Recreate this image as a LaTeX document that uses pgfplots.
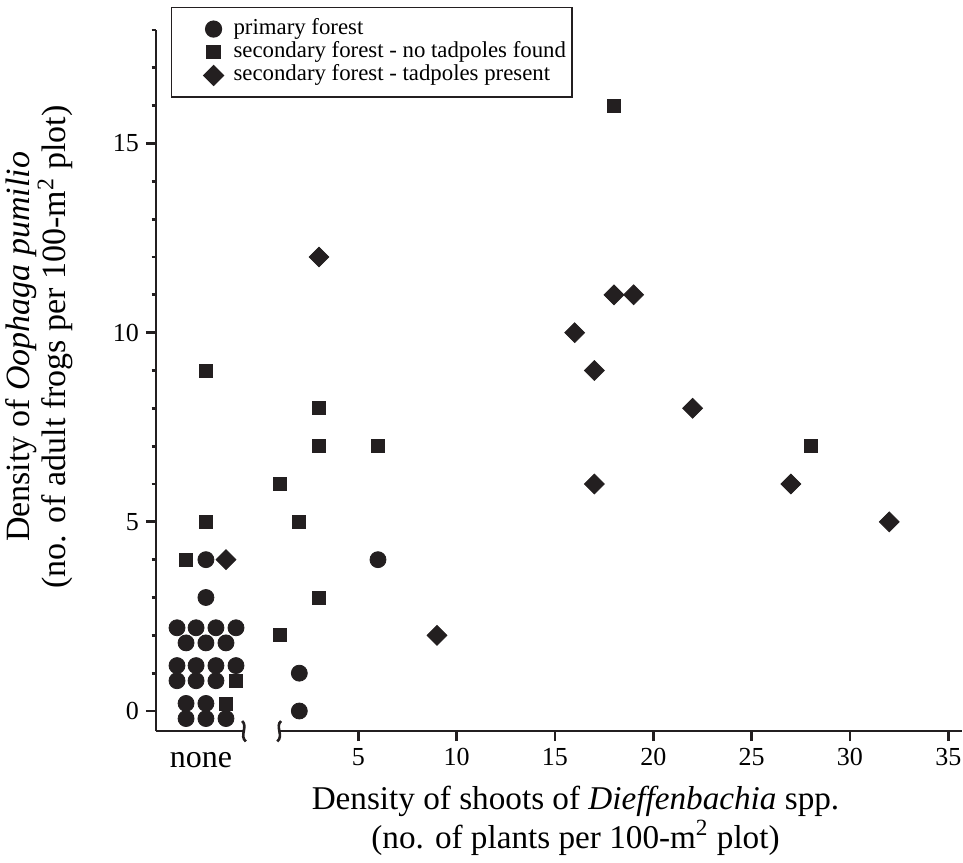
\documentclass[border=0pt]{standalone}
\usepackage{fontspec}
\setmainfont{Liberation Serif}
\usepackage{pgfplots}
\pgfplotsset{compat=1.18}

\definecolor{ink}{RGB}{35,31,32}

% primary forest
\pgfplotstableread{
x y
-4.22 2.2
-3.25 2.2
-2.24 2.2
-1.22 2.2
-3.76 1.8
-2.75 1.8
-1.73 1.8
-4.22 1.2
-3.25 1.2
-2.24 1.2
-1.22 1.2
-4.22 0.8
-3.25 0.8
-2.24 0.8
-3.76 0.2
-2.75 0.2
-3.76 -0.2
-2.75 -0.2
-1.73 -0.2
-2.75 3
-2.75 4
2 0
2 1
6 4
}\primary

% secondary forest, no tadpoles found
\pgfplotstableread{
x y
-2.75 9
-2.75 5
-3.76 4
-1.22 0.8
-1.73 0.2
1 6
1 2
2 5
3 8
3 7
3 3
6 7
18 16
28 7
}\notadpoles

% secondary forest, tadpoles present
\pgfplotstableread{
x y
-1.73 4
3 12
16 10
17 9
18 11
19 11
22 8
17 6
27 6
32 5
9 2
}\tadpoles

\begin{document}
\begin{tikzpicture}
\begin{axis}[
    scale only axis, width=403pt, height=350.5pt,
    xmin=-5.29, xmax=35.7, ymin=-0.53, ymax=18,
    axis x line=bottom, axis y line=left,
    axis line style={-, line width=1.4pt, color=ink},
    x axis line style={draw=none},
    xtick={5,10,...,35},
    ytick={0,5,10,15},
    minor ytick={1,2,3,4,6,7,8,9,11,12,13,14,16,17,18},
    tick align=outside,
    major tick length=5pt, minor tick length=2.2pt,
    every tick/.style={line width=1.4pt, color=ink},
    tick label style={font=\fontsize{13}{15}\selectfont},
    /pgf/number format/assume math mode=true,
    extra x ticks={-3},
    extra x tick labels={none},
    extra x tick style={every tick/.style={draw=none},
        tick label style={font=\fontsize{16}{18}\selectfont, yshift=-2pt}},
    xlabel={Density of shoots of \textit{Dieffenbachia} spp.\\(no. of plants per 100-m\textsuperscript{2} plot)},
    ylabel={Density of \textit{Oophaga pumilio}\\(no. of adult frogs per 100-m\textsuperscript{2} plot)},
    every axis x label/.style={at={(axis description cs:0.5205,-0.128)}, anchor=center,
        font=\fontsize{16.6}{19.5}\selectfont, align=center},
    every axis y label/.style={at={(axis description cs:-0.1445,0.548)}, anchor=center, rotate=90,
        font=\fontsize{17}{18}\selectfont, align=center},
    legend style={at={(axis description cs:0.0186,1.033)}, anchor=north west,
        draw=ink, line width=0.6pt, inner xsep=1pt, inner ysep=5pt,
        font=\fontsize{11.4}{11.5}\selectfont, row sep=0pt,
        nodes={text height=8pt, text depth=3pt, inner ysep=0.3pt}},
    legend cell align=left,
    legend image code/.code={
        \path[draw=none, fill=none] (0pt,-1pt) rectangle (28pt,1pt);
        \draw[#1] plot coordinates {(20pt,0pt)};},
    clip=false,
]
\addplot[only marks, mark=*, mark size=4pt, draw=ink, fill=ink] table {\primary};
\addlegendentry{primary forest}
\addplot[only marks, mark=square*, mark size=3.25pt, draw=ink, fill=ink] table {\notadpoles};
\addlegendentry{secondary forest - no tadpoles found}
\addplot[only marks, mark=square*, mark size=3.5pt, mark options={rotate=45}, draw=ink, fill=ink] table {\tadpoles};
\addlegendentry{secondary forest - tadpoles present}

% broken x axis
\draw[line width=1.4pt, color=ink] (axis cs:-5.29,-0.53) -- (axis cs:-0.86,-0.53);
\draw[line width=1.4pt, color=ink] (axis cs:1.02,-0.53) -- (axis cs:35.7,-0.53);
\draw[line width=1.3pt, color=ink, shift={(axis cs:-0.86,-0.53)}]
    (-0.5pt,5pt) .. controls (2.6pt,2.5pt) and (-2pt,-2.5pt) .. (1.4pt,-5.2pt);
\draw[line width=1.3pt, color=ink, shift={(axis cs:1.02,-0.53)}]
    (0.5pt,5pt) .. controls (-2.6pt,2.5pt) and (2pt,-2.5pt) .. (-1.4pt,-5.2pt);

\coordinate (bbSW) at (axis description cs:-0.1935,-0.1869);
\coordinate (bbNE) at (axis description cs:1.0012,1.0428);
\end{axis}
\pgfresetboundingbox
\path[use as bounding box] (bbSW) rectangle (bbNE);
\end{tikzpicture}
\end{document}
